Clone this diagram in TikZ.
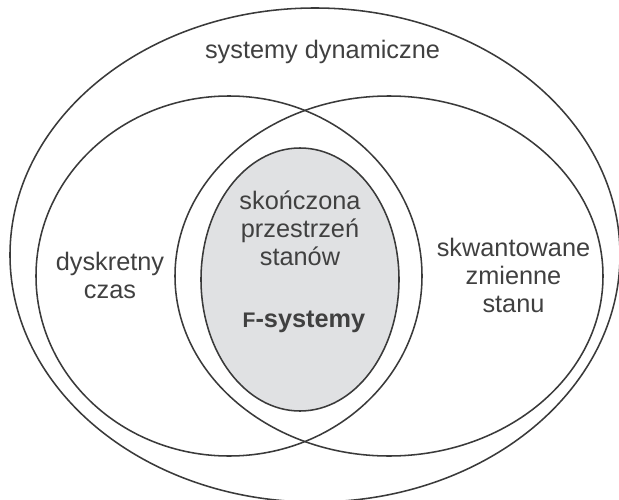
\documentclass[tikz,border=0pt]{standalone}
\usepackage{fontspec}
\setmainfont{Liberation Sans}
\definecolor{linegray}{HTML}{3A3A3A}
\definecolor{textgray}{HTML}{404040}
\definecolor{fillgray}{HTML}{E0E1E3}
\begin{document}
\begin{tikzpicture}[x=0.025cm, y=-0.025cm, line width=1.1pt,
  every node/.style={font=\fontsize{18}{19.9}\selectfont, text=textgray, align=center, inner sep=0pt}]

      \useasboundingbox (0,0) rectangle (619,500);

      % Outer ellipse and the two overlapping sets
      \foreach \cx/\cy/\rx/\ry in {315/255/305/247, 229/276/193/180, 389/276/214/180} {
        \draw[linegray] (\cx,\cy) ellipse [x radius=\rx, y radius=\ry];
      }

      % Finite state space (shaded)
      \draw[linegray, fill=fillgray] (300,279.5) ellipse [x radius=99, y radius=131.5];

      % Labels
      \node[anchor=base] (dyn) at (322.5,58.3) {systemy dynamiczne};
      \node (disc) at (110,275.9) {dyskretny\\czas};
      \node (quant) at (513.5,275.8) {skwantowane\\zmienne\\stanu};
      \node (fin) at (300,228.3) {skończona\\przestrzeń\\stanów};
      \node[anchor=base, font=\fontsize{18}{19.9}\selectfont\bfseries] (fsys) at (304,327.7)
        {{\fontsize{15}{16}\selectfont F}-systemy};
    \end{tikzpicture}
\end{document}
